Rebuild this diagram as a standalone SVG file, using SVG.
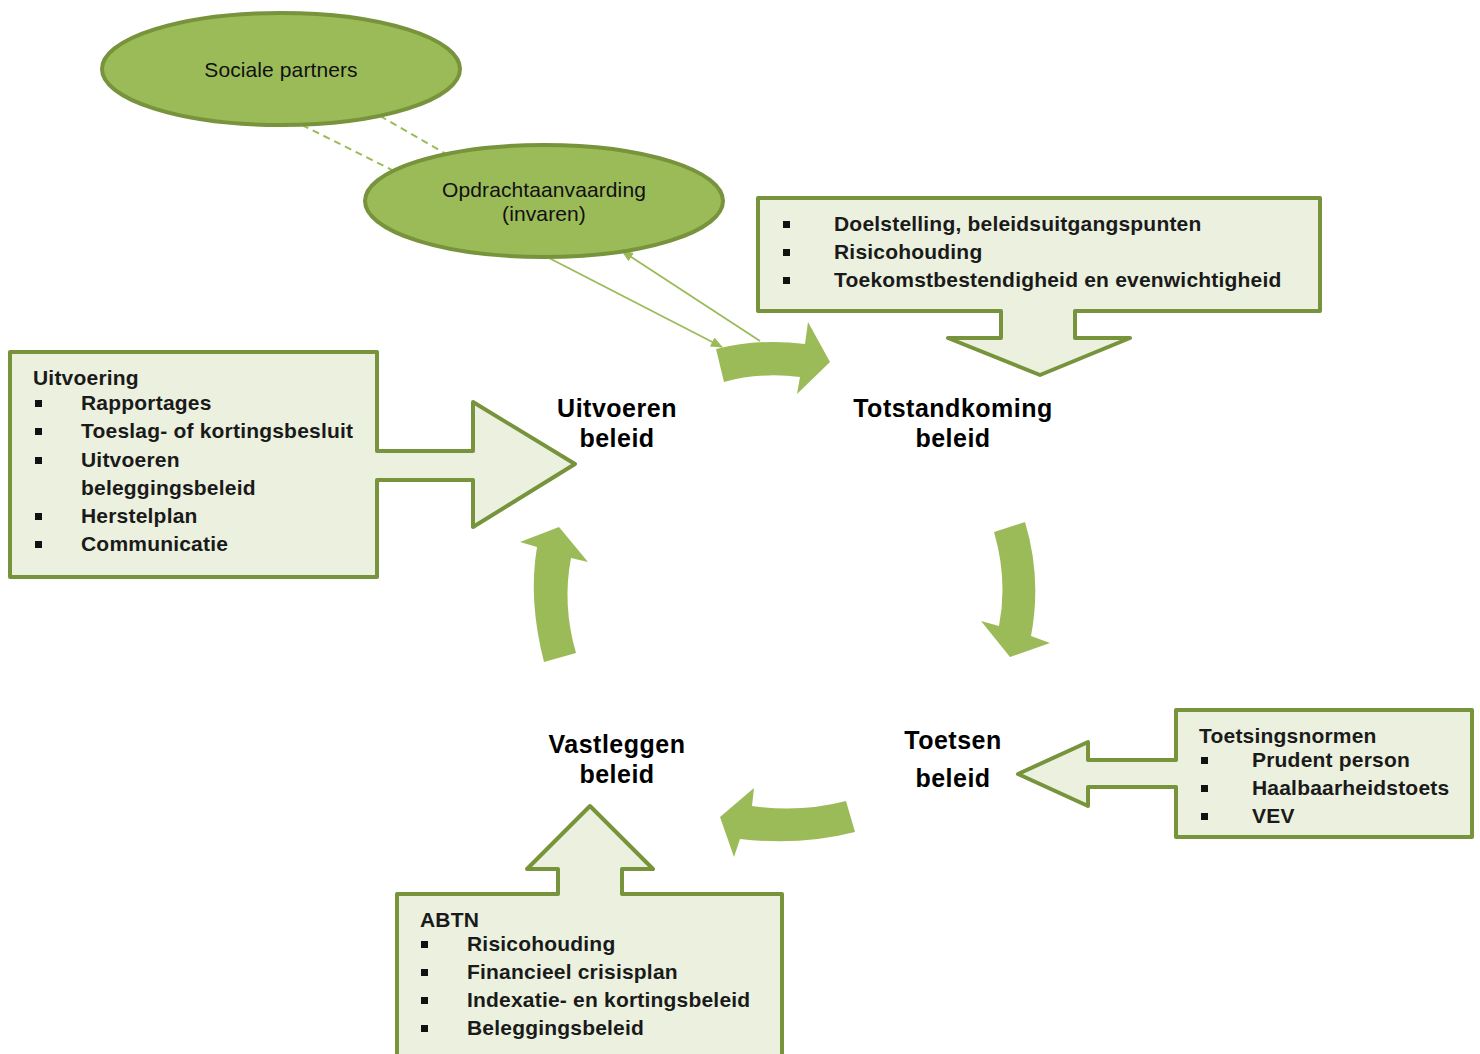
<svg xmlns="http://www.w3.org/2000/svg" width="1480" height="1054" viewBox="0 0 1480 1054">
<defs>
<style>
.ell{fill:#9bbb59;stroke:#77933c;stroke-width:4}
.box{fill:#ebf1de;stroke:#77933c;stroke-width:4;stroke-linejoin:round}
.cyc{fill:#9bbb59}
.et{font-family:"Liberation Sans",Arial,sans-serif;font-size:21px;letter-spacing:0.1px;fill:#111;text-anchor:middle}
.lbl{font-family:"Liberation Sans",Arial,sans-serif;font-size:25px;font-weight:bold;letter-spacing:0.5px;fill:#000;text-anchor:middle}
.it{font-family:"Liberation Sans",Arial,sans-serif;font-size:21px;font-weight:bold;letter-spacing:0.2px;fill:#1a1a1a}
.bul{fill:#111}
.dash{stroke:#9bbb59;stroke-width:2;stroke-dasharray:7,5;fill:none}
.con{stroke:#9bbb59;stroke-width:1.8;fill:none}
</style>
<marker id="ah" viewBox="0 0 12 10" refX="11" refY="5" markerWidth="12" markerHeight="10" markerUnits="userSpaceOnUse" orient="auto-start-reverse">
<path d="M0,0 L12,5 L0,10 Z" fill="#9bbb59"/>
</marker>
</defs>
<rect width="1480" height="1054" fill="#fff"/>

<g id="connectors">
<line class="dash" x1="302" y1="125" x2="396" y2="172"/>
<line class="dash" x1="380" y1="116" x2="446" y2="154"/>
<line class="con" x1="549" y1="258" x2="722" y2="347" marker-end="url(#ah)"/>
<line class="con" x1="760" y1="341" x2="622" y2="251" marker-end="url(#ah)"/>
</g>

<g id="cycle-arrows">
<path class="cyc" d="M716,349 Q760,338 805,344 L808,322 L830,362 L797,394 L800,377 Q760,372 724,382 Z"/>
<path class="cyc" d="M994,532 Q1008,580 999,626 L981,621 L1010,657 L1050,643 L1031,636 Q1042,578 1025,522 Z"/>
<path class="cyc" d="M846,801 Q800,813 752,806 L754,788 L720,817 L734,857 L740,839 Q800,846 855,832 Z"/>
<path class="cyc" d="M544,662 Q528,600 537,547 L520,542 L559,527 L588,562 L571,558 Q562,605 576,653 Z"/>
</g>

<g id="sociale-partners">
<ellipse class="ell" cx="281" cy="69" rx="179" ry="56"/>
<text class="et" x="281" y="77">Sociale partners</text>
</g>

<g id="opdrachtaanvaarding">
<ellipse class="ell" cx="544" cy="201" rx="179" ry="56"/>
<text class="et" x="544" y="197">Opdrachtaanvaarding</text>
<text class="et" x="544" y="221">(invaren)</text>
</g>

<g id="totstandkoming-box">
<path class="box" d="M758,198 H1320 V311 H1075 V338 H1130 L1040,375 L948,338 H1001 V311 H758 Z"/>
<rect class="bul" x="783" y="221" width="7" height="7"/>
<rect class="bul" x="783" y="249" width="7" height="7"/>
<rect class="bul" x="783" y="277" width="7" height="7"/>
<text class="it" x="834" y="231">Doelstelling, beleidsuitgangspunten</text>
<text class="it" x="834" y="259">Risicohouding</text>
<text class="it" x="834" y="287">Toekomstbestendigheid en evenwichtigheid</text>
</g>

<g id="uitvoering-box">
<path class="box" d="M10,352 H377 V451 H473 V402 L575,464 L473,527 V480 H377 V577 H10 Z"/>
<text class="it" x="33" y="385">Uitvoering</text>
<rect class="bul" x="35" y="400" width="7" height="7"/>
<rect class="bul" x="35" y="428" width="7" height="7"/>
<rect class="bul" x="35" y="457" width="7" height="7"/>
<rect class="bul" x="35" y="513" width="7" height="7"/>
<rect class="bul" x="35" y="541" width="7" height="7"/>
<text class="it" x="81" y="410">Rapportages</text>
<text class="it" x="81" y="438">Toeslag- of kortingsbesluit</text>
<text class="it" x="81" y="467">Uitvoeren</text>
<text class="it" x="81" y="495">beleggingsbeleid</text>
<text class="it" x="81" y="523">Herstelplan</text>
<text class="it" x="81" y="551">Communicatie</text>
</g>

<g id="toetsing-box">
<path class="box" d="M1176,710 H1472 V837 H1176 V787 H1088 V806 L1018,774 L1088,742 V760 H1176 Z"/>
<text class="it" x="1199" y="743">Toetsingsnormen</text>
<rect class="bul" x="1201" y="757" width="7" height="7"/>
<rect class="bul" x="1201" y="785" width="7" height="7"/>
<rect class="bul" x="1201" y="813" width="7" height="7"/>
<text class="it" x="1252" y="767">Prudent person</text>
<text class="it" x="1252" y="795">Haalbaarheidstoets</text>
<text class="it" x="1252" y="823">VEV</text>
</g>

<g id="abtn-box">
<path class="box" d="M397,894 H558 V869 H527 L590,806 L653,869 H622 V894 H782 V1062 H397 Z"/>
<text class="it" x="420" y="927">ABTN</text>
<rect class="bul" x="421" y="941" width="7" height="7"/>
<rect class="bul" x="421" y="969" width="7" height="7"/>
<rect class="bul" x="421" y="997" width="7" height="7"/>
<rect class="bul" x="421" y="1025" width="7" height="7"/>
<text class="it" x="467" y="951">Risicohouding</text>
<text class="it" x="467" y="979">Financieel crisisplan</text>
<text class="it" x="467" y="1007">Indexatie- en kortingsbeleid</text>
<text class="it" x="467" y="1035">Beleggingsbeleid</text>
</g>

<g id="uitvoeren-beleid">
<text class="lbl" x="617" y="417">Uitvoeren</text>
<text class="lbl" x="617" y="447">beleid</text>
</g>
<g id="totstandkoming-beleid">
<text class="lbl" x="953" y="417">Totstandkoming</text>
<text class="lbl" x="953" y="447">beleid</text>
</g>
<g id="toetsen-beleid">
<text class="lbl" x="953" y="749">Toetsen</text>
<text class="lbl" x="953" y="787">beleid</text>
</g>
<g id="vastleggen-beleid">
<text class="lbl" x="617" y="753">Vastleggen</text>
<text class="lbl" x="617" y="783">beleid</text>
</g>
</svg>
